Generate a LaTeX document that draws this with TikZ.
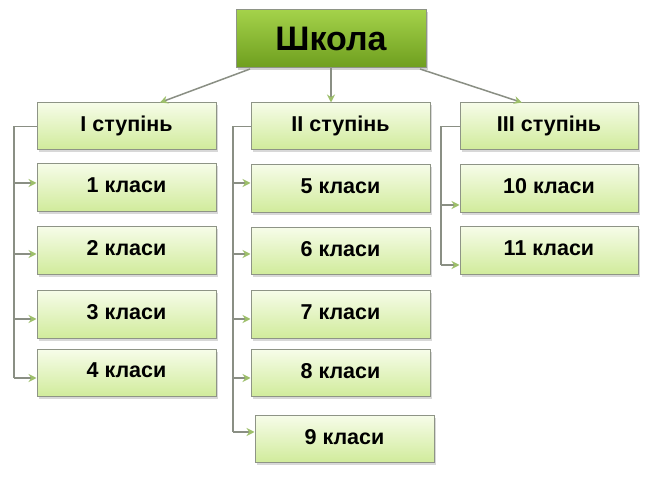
\documentclass[tikz,border=0pt]{standalone}
\usepackage{fontspec}
\setmainfont{Liberation Sans}
\usetikzlibrary{shadows,arrows.meta}
\definecolor{topgreen}{HTML}{A4D24A}
\definecolor{botgreen}{HTML}{6E9E1E}
\definecolor{lighttop}{HTML}{F6FCE8}
\definecolor{lightbot}{HTML}{D0EB9A}
\definecolor{edgegray}{HTML}{8E9486}
\definecolor{linegray}{HTML}{8A8F84}
\definecolor{tipgreen}{HTML}{9DBF6A}
\tikzset{
  x=1pt,y=-1pt,
  rootbox/.style={draw=edgegray,line width=1pt,top color=topgreen,bottom color=botgreen,
    drop shadow={shadow xshift=2pt,shadow yshift=-2pt,opacity=0.35},
    font=\bfseries\fontsize{34}{36}\selectfont,text=black,inner sep=0pt},
  classbox/.style={draw=edgegray,line width=1pt,top color=lighttop,bottom color=lightbot,
    drop shadow={shadow xshift=2pt,shadow yshift=-2pt,opacity=0.3},
    font=\bfseries\fontsize{21.5}{23}\selectfont,text=black,inner sep=0pt,text depth=6pt},
  conn/.style={draw=linegray,line width=1.5pt,-{Stealth[length=8pt,width=8pt,fill=tipgreen,color=tipgreen]}},
  plain/.style={draw=linegray,line width=1.5pt}
}
\begin{document}
\begin{tikzpicture}
\useasboundingbox[fill=white] (0,0) rectangle (657,481);
% boxes
\node[rootbox,minimum width=190pt,minimum height=58pt] (school) at (331,39) {Школа};
\node[classbox,minimum width=179pt,minimum height=47pt] (s1) at (126.5,126.5) {I ступінь};
\node[classbox,minimum width=179pt,minimum height=48pt] (c1) at (126.5,188) {1 класи};
\node[classbox,minimum width=179pt,minimum height=48pt] (c2) at (126.5,251) {2 класи};
\node[classbox,minimum width=179pt,minimum height=48pt] (c3) at (126.5,315) {3 класи};
\node[classbox,minimum width=179pt,minimum height=47pt] (c4) at (126.5,373.5) {4 класи};
\node[classbox,minimum width=179pt,minimum height=47pt] (s2) at (340.5,126.5) {II ступінь};
\node[classbox,minimum width=179pt,minimum height=48pt] (c5) at (340.5,189) {5 класи};
\node[classbox,minimum width=179pt,minimum height=47pt] (c6) at (340.5,251.5) {6 класи};
\node[classbox,minimum width=179pt,minimum height=48pt] (c7) at (340.5,315) {7 класи};
\node[classbox,minimum width=179pt,minimum height=47pt] (c8) at (340.5,373.5) {8 класи};
\node[classbox,minimum width=179pt,minimum height=47pt] (c9) at (344.5,439.5) {9 класи};
\node[classbox,minimum width=178pt,minimum height=47pt] (s3) at (549,126.5) {III ступінь};
\node[classbox,minimum width=178pt,minimum height=48pt] (c10) at (549,189) {10 класи};
\node[classbox,minimum width=178pt,minimum height=48pt] (c11) at (549,251) {11 класи};
% from root
\coordinate (rl) at (250,69);
\coordinate (rr) at (420,69);
\draw[conn] (rl) -- (s1.north east -| 160,0);
\draw[conn] (school.south) -- (s2.north -| school.south);
\draw[conn] (rr) -- (s3.north west -| 522,0);
% I level
\coordinate (v1) at (14,126.5);
\draw[plain] (s1.west) -- (v1) -- (14,378);
\foreach \c/\yy in {c1/183,c2/254,c3/319,c4/378}{
  \draw[conn] (14,\yy) -- (\c.west |- 0,\yy);
}
% II level
\coordinate (v2) at (233,126.5);
\draw[plain] (s2.west) -- (v2) -- (233,432);
\foreach \c/\yy in {c5/183,c6/254,c7/319,c8/378,c9/432}{
  \draw[conn] (233,\yy) -- (\c.west |- 0,\yy);
}
% III level
\coordinate (v3) at (441,126.5);
\draw[plain] (s3.west) -- (v3) -- (441,265);
\foreach \c/\yy in {c10/205,c11/265}{
  \draw[conn] (441,\yy) -- (\c.west |- 0,\yy);
}
\end{tikzpicture}
\end{document}
